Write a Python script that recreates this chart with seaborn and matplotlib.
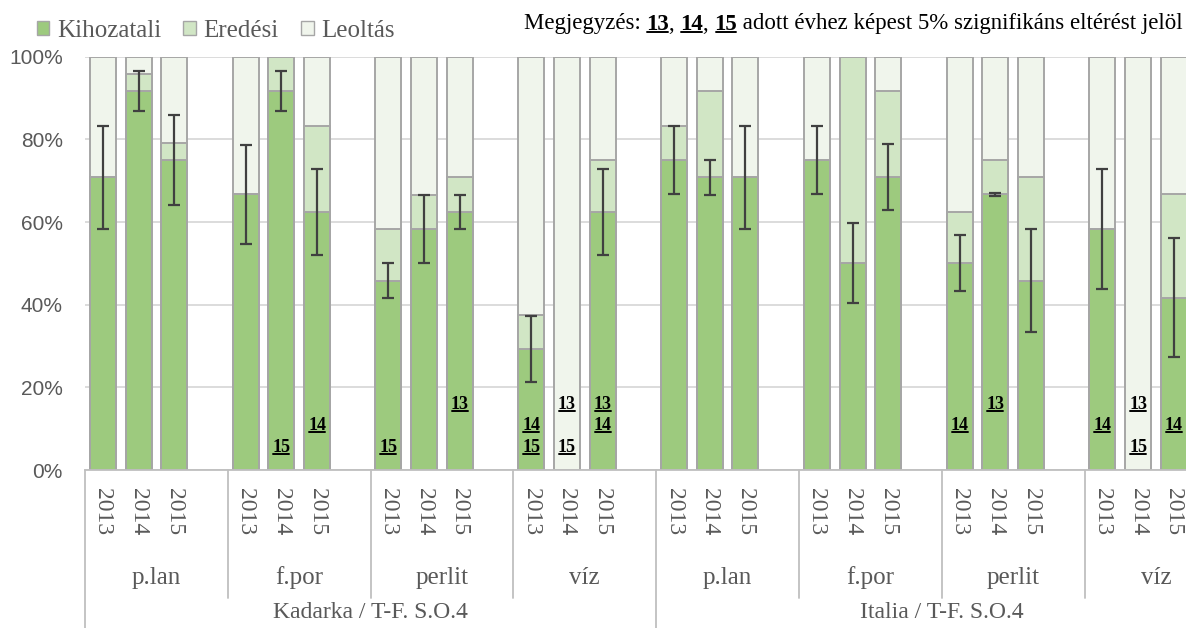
import numpy as np
import pandas as pd
import matplotlib
matplotlib.use("Agg")
import matplotlib.pyplot as plt
import seaborn as sns
from matplotlib.patches import Patch
from matplotlib.lines import Line2D
from matplotlib.transforms import IdentityTransform

# categories
varieties = ["Kadarka / T-F. S.O.4", "Italia / T-F. S.O.4"]
groups = ["p.lan", "f.por", "perlit", "víz"]
years = ["2013", "2014", "2015"]

# values in %, order: variety > group > year
kihozatali = [70.8, 91.7, 75.0, 66.7, 91.7, 62.5, 45.8, 58.3, 62.5, 29.2, 0.0, 62.5,
              75.0, 70.8, 70.8, 75.0, 50.0, 70.8, 50.0, 66.7, 45.8, 58.3, 0.0, 41.7]
eredesi = [0.0, 4.2, 4.2, 0.0, 8.3, 20.8, 12.5, 8.3, 8.3, 8.3, 0.0, 12.5,
           8.3, 20.8, 0.0, 0.0, 50.0, 20.8, 12.5, 8.3, 25.0, 0.0, 0.0, 25.0]
hiba = [12.5, 4.8, 10.8, 11.9, 4.8, 10.4, 4.2, 8.3, 4.1, 8.0, np.nan, 10.4,
        8.3, 4.2, 12.5, 8.3, 9.7, 8.0, 6.8, 0.3, 12.5, 14.5, np.nan, 14.4]
# significance marks (vs. given year) per bar
jelek = ["", "", "", "", "15", "14", "15", "", "13", "14 15", "13 15", "13 14",
         "", "", "", "", "", "", "14", "13", "", "14", "13 15", "14"]

series = ["Kihozatali", "Eredési", "Leoltás"]
colors = ["#9dca7e", "#d1e6c5", "#f0f5ec"]
edge = "#a6a6a6"
serif = "Liberation Serif"
sans = "Liberation Sans"

# build table
rows = []
order = []
for v in varieties:
    for g in groups:
        for y in years:
            order.append(f"{v}|{g}|{y}")
        order.append(f"gap|{v}|{g}")
i = 0
for v in varieties:
    for g in groups:
        for y in years:
            rows.append({"slot": f"{v}|{g}|{y}", "variety": v, "group": g, "year": y,
                         "kihozatali": kihozatali[i], "eredesi": eredesi[i],
                         "hiba": hiba[i], "jel": jelek[i]})
            i += 1
df = pd.DataFrame(rows)
df["leoltas"] = 100 - df["kihozatali"] - df["eredesi"]
df["top2"] = df["kihozatali"] + df["eredesi"]
df["top3"] = df["top2"] + df["leoltas"]
df["pos"] = [order.index(s) for s in df["slot"]]

sns.set_style("white")
plt.rcParams["font.family"] = [serif, "DejaVu Serif"]

fig = plt.figure(figsize=(11.86, 6.28), dpi=100)
W, H = 1186, 628
x_left, y_zero, y_full = 85, 470, 56.7
slot_w = 35.7
ax = fig.add_axes([x_left / W, 1 - y_zero / H, 32 * slot_w / W, (y_zero - y_full) / H])

# stacked bars: draw back to front
for col, c in zip(["top3", "top2", "kihozatali"], colors[::-1]):
    sns.barplot(data=df, x="slot", y=col, order=order, color=c, saturation=1,
                width=0.73, edgecolor=edge, linewidth=1.4, errorbar=None, ax=ax)

ax.errorbar(df["pos"], df["kihozatali"], yerr=df["hiba"], fmt="none",
            ecolor="#404040", elinewidth=1.6, capsize=4, capthick=1.6, zorder=5)

ax.set_xlim(-0.5, 31.5)
ax.set_ylim(0, 100)
ax.set_yticks(range(0, 101, 20))
ax.set_yticklabels([f"{v}%" for v in range(0, 101, 20)], family=sans, fontsize=15, color="#595959")
ax.tick_params(axis="y", length=0, pad=16)
ax.tick_params(axis="x", length=0, labelbottom=False)
ax.set_xlabel("")
ax.set_ylabel("")
ax.yaxis.grid(True, color="#d9d9d9", lw=1.3)
ax.set_axisbelow(True)
for s in ["left", "right", "top"]:
    ax.spines[s].set_visible(False)
ax.spines["bottom"].set_color("#bfbfbf")
ax.spines["bottom"].set_linewidth(1.3)

# multi-level category axis
tr = ax.get_xaxis_transform()
ax_h = y_zero - y_full
def fy(py):
    return (y_zero - py) / ax_h

for _, r in df.iterrows():
    ax.text(r["pos"], fy(512), r["year"], rotation=-90, ha="center", va="center",
            transform=tr, fontsize=17, color="#595959", clip_on=False)
for vi, v in enumerate(varieties):
    for gi, g in enumerate(groups):
        start = vi * 16 + gi * 4
        ax.text(start + 1.5, fy(578), g, ha="center", va="center", transform=tr,
                fontsize=18, color="#595959", clip_on=False)
        if gi > 0:
            ax.plot([start - 0.5] * 2, [0, fy(598)], transform=tr, color="#bfbfbf",
                    lw=1.3, clip_on=False)
    ax.text(vi * 16 + 7.5, fy(612), v, ha="center", va="center", transform=tr,
            fontsize=17, color="#595959", clip_on=False)
    ax.plot([vi * 16 - 0.5] * 2, [0, fy(640)], transform=tr, color="#bfbfbf",
            lw=1.3, clip_on=False)

# significance marks
jel_y = {"13": 15.8, "14": 10.8, "15": 5.5}
marks = []
for _, r in df.iterrows():
    for j in r["jel"].split():
        t = ax.text(r["pos"], jel_y[j], j, ha="center", va="center", fontsize=13,
                    fontweight="bold", color="black", zorder=6)
        marks.append(t)

# legend
handles = [Patch(facecolor=c, edgecolor=edge, label=l) for c, l in zip(colors, series)]
fig.legend(handles=handles, loc="upper left", bbox_to_anchor=(0.012, 1.004), ncol=3,
           frameon=False, handlelength=0.5, handleheight=0.5, handletextpad=0.3,
           columnspacing=0.9, prop={"family": serif, "size": 18}, labelcolor="#595959")

# note with bold underlined parts
fig.canvas.draw()
rend = fig.canvas.get_renderer()
pieces = [("Megjegyzés: ", False), ("13", True), (", ", False), ("14", True), (", ", False),
          ("15", True), (" adott évhez képest 5% szignifikáns eltérést jelöl", False)]
texts = []
for p, b in pieces:
    t = fig.text(0, H - 24, p, transform=IdentityTransform(), fontsize=16.5,
                 fontweight="bold" if b else "normal", va="center", ha="left", color="black")
    texts.append((t, b))
widths = [t.get_window_extent(rend).width for t, _ in texts]
x = 1183 - sum(widths)
for (t, b), w in zip(texts, widths):
    t.set_x(x)
    x += w
fig.canvas.draw()

def underline(t):
    bb = t.get_window_extent(rend)
    yl = bb.y0 + 0.12 * bb.height
    fig.add_artist(Line2D([bb.x0 + 1, bb.x1 - 1], [yl, yl], transform=IdentityTransform(),
                          color="black", lw=1.4))

for t, b in texts:
    if b:
        underline(t)
for t in marks:
    underline(t)

fig.savefig("out.png", dpi=100)
